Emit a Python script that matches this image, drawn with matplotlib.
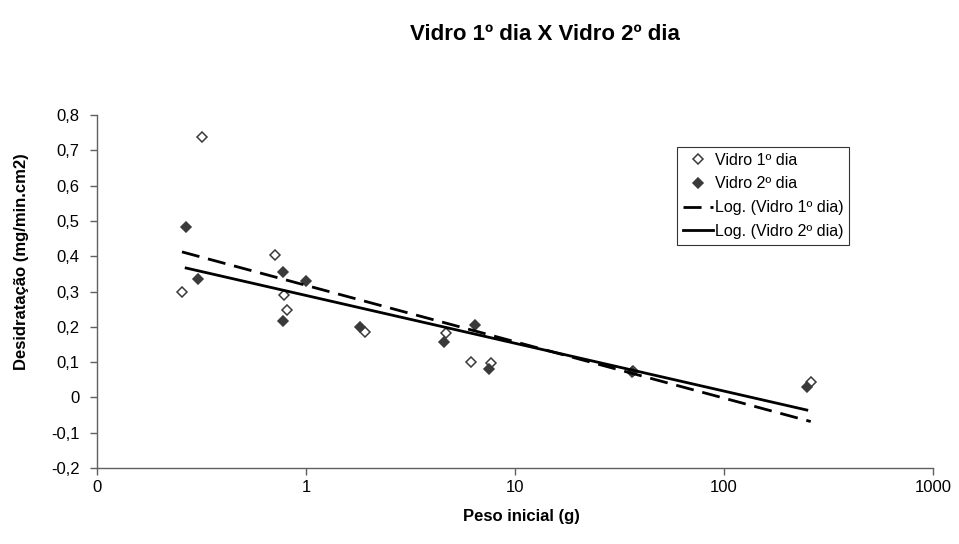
import numpy as np
import matplotlib
matplotlib.use("Agg")
import matplotlib.pyplot as plt
from matplotlib.ticker import FixedLocator, FixedFormatter, NullLocator

plt.rcParams['font.family'] = ['Liberation Sans', 'DejaVu Sans']

# Peso inicial (g) and desidratação (mg/min.cm2), first day
peso_dia1 = [0.255, 0.318, 0.711, 0.785, 0.811, 1.915, 4.68, 6.16, 7.67, 36.5, 260.0]
desid_dia1 = [0.300, 0.737, 0.402, 0.291, 0.249, 0.186, 0.183, 0.101, 0.098, 0.075, 0.044]

# second day
peso_dia2 = [0.267, 0.304, 0.776, 1.00, 0.776, 1.81, 4.57, 6.44, 7.51, 36.3, 249.0]
desid_dia2 = [0.484, 0.334, 0.354, 0.331, 0.217, 0.200, 0.158, 0.206, 0.080, 0.072, 0.030]

x_ticks = [0.1, 1, 10, 100, 1000]
x_tick_labels = ["0", "1", "10", "100", "1000"]
y_ticks = [-0.2, -0.1, 0, 0.1, 0.2, 0.3, 0.4, 0.5, 0.6, 0.7, 0.8]
y_tick_labels = ["-0,2", "-0,1", "0", "0,1", "0,2", "0,3", "0,4", "0,5", "0,6", "0,7", "0,8"]


def log_trend(x, y):
    """Logarithmic trendline y = a*ln(x) + b over the range of x."""
    x = np.asarray(x)
    a, b = np.polyfit(np.log(x), np.asarray(y), 1)
    xs = np.logspace(np.log10(x.min()), np.log10(x.max()), 200)
    return xs, a * np.log(xs) + b


fig = plt.figure(figsize=(9.59, 5.44), dpi=100)
ax = fig.add_axes([97 / 959, 1 - 468 / 544, (933 - 97) / 959, (468 - 115) / 544])

mcolor = '#3a3a3a'
ax.plot(peso_dia1, desid_dia1, linestyle='none', marker='D', markersize=5.2,
        markerfacecolor='white', markeredgecolor=mcolor, markeredgewidth=1.1,
        label='Vidro 1º dia', zorder=3)
ax.plot(peso_dia2, desid_dia2, linestyle='none', marker='D', markersize=5.2,
        markerfacecolor=mcolor, markeredgecolor=mcolor, markeredgewidth=1.1,
        label='Vidro 2º dia', zorder=3)

xs1, ys1 = log_trend(peso_dia1, desid_dia1)
xs2, ys2 = log_trend(peso_dia2, desid_dia2)
ax.plot(xs1, ys1, color='black', linewidth=2.0, dashes=(6.5, 3.2),
        label='Log. (Vidro 1º dia)', zorder=4)
ax.plot(xs2, ys2, color='black', linewidth=2.0,
        label='Log. (Vidro 2º dia)', zorder=4)

ax.set_xscale('log')
ax.set_xlim(0.1, 1000)
ax.set_ylim(-0.2, 0.8)
ax.xaxis.set_major_locator(FixedLocator(x_ticks))
ax.xaxis.set_major_formatter(FixedFormatter(x_tick_labels))
ax.xaxis.set_minor_locator(NullLocator())
ax.yaxis.set_major_locator(FixedLocator(y_ticks))
ax.yaxis.set_major_formatter(FixedFormatter(y_tick_labels))

for side in ('top', 'right'):
    ax.spines[side].set_visible(False)
for side in ('left', 'bottom'):
    ax.spines[side].set_color('#606060')
    ax.spines[side].set_linewidth(1.0)
ax.tick_params(axis='both', direction='out', length=5, width=1.0,
               color='#606060', labelsize=12)
ax.tick_params(axis='y', pad=7.5)
ax.tick_params(axis='x', pad=4)

ax.set_xlabel('Peso inicial (g)', fontsize=12, fontweight='bold')
ax.set_ylabel('Desidratação (mg/min.cm2)', fontsize=12, fontweight='bold')
ax.xaxis.set_label_coords((521 - 97) / 836, -(517 - 468) / 353)
ax.xaxis.label.set_va('center')
ax.yaxis.set_label_coords(-(97 - 22) / 836, (468 - 262) / 353)
ax.yaxis.label.set_va('center')

fig.text(545 / 959, 1 - 35 / 544, 'Vidro 1º dia X Vidro 2º dia', ha='center', va='center',
         fontsize=16, fontweight='bold')

leg = ax.legend(loc='upper left', bbox_to_anchor=(677 / 959, 1 - 147 / 544),
                bbox_transform=fig.transFigure, frameon=True, fancybox=False,
                fontsize=11.5, handlelength=1.9, handletextpad=0.1, borderpad=0.35,
                labelspacing=0.55, borderaxespad=0)
leg.get_frame().set_edgecolor('black')
leg.get_frame().set_linewidth(0.8)

fig.savefig('out.png', dpi=100)
